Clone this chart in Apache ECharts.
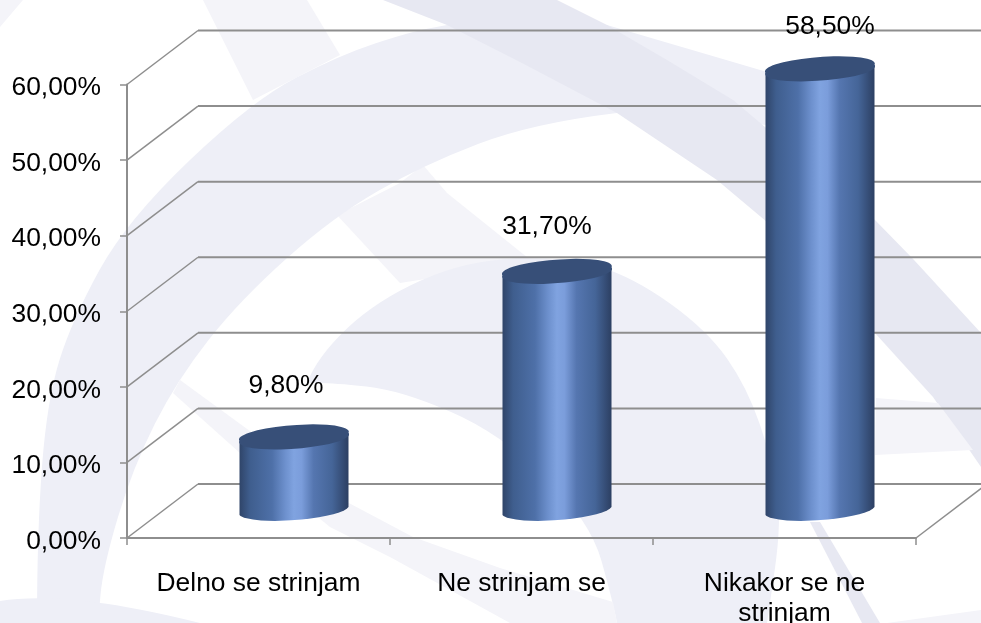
<!DOCTYPE html>
<html><head><meta charset="utf-8">
<style>html,body{margin:0;padding:0;background:#fff}#c{width:981px;height:623px}</style>
<script src="https://cdn.jsdelivr.net/npm/echarts@6/dist/echarts.min.js"></script>
</head><body><div id="c"></div>
<script>
const categories = ['Delno se strinjam', 'Ne strinjam se', 'Nikakor se ne\nstrinjam'];
const values = [9.8, 31.7, 58.5];
const dataLabels = ['9,80%', '31,70%', '58,50%'];
const wallTicks = [0, 10, 20, 30, 40, 50, 60];

// layout constants
const depthX = 71, depthY = 54;
const barW = 109, tilt = 4, ry = 10.5;
const labelShift = [[-8, -51], [-10, -45], [10, -42]];
const LIGHT = '#f4f4f9', MID = '#eeeff7', DARK = '#e7e8f2', GRID = '#8e8e8e';
const FONT = '"Liberation Sans", Arial, sans-serif';

function pathD(d, fill) {
  return { type: 'path', silent: true, shape: { pathData: d }, style: { fill: fill } };
}
// smooth curve through a list of points, continuing the current path
function sm(p) {
  let d = ` L${p[0][0]} ${p[0][1]}`;
  for (let i = 1; i < p.length - 1; i++) {
    const mx = (p[i][0] + p[i + 1][0]) / 2, my = (p[i][1] + p[i + 1][1]) / 2;
    d += ` Q${p[i][0]} ${p[i][1]} ${mx} ${my}`;
  }
  const e = p[p.length - 1];
  return d + ` L${e[0]} ${e[1]}`;
}
const mainOuter = [[37,623],[37,533],[47,400],[72,320],[127,220],[253,100],[340,55],[410,32],[447,25]];
const mainInner = [[617,113],[533,123],[423,165],[333,217],[240,300],[177,380],[133,467],[103,567],[98,623]];
const lowOuter = [[307,383],[317,357],[377,300],[467,260],[567,257],[633,277],[707,330],[747,387],[772,460],[782,520],[767,623]];
const lowInner = [[617,623],[613,602],[590,520],[500,433],[400,390],[333,383],[307,383]];
const backdropShapes = [
  ['M0 0 L23 0 L0 27 Z', LIGHT],
  ['M203 0 L307 0 L340 55 L253 100 Z', LIGHT],
  ['M337 215 L400 183 L423 165 L447 193 L533 262 L400 283 Z', LIGHT],
  ['M37 623' + sm(mainOuter) + ' L607 25 L767 72 L767 125' + sm(mainInner) + ' Z', MID],
  ['M307 383' + sm(lowOuter) + sm(lowInner) + ' Z', MID],
  ['M180 380 L347 502 L413 537 L500 568 L613 602 L617 623 L510 623 L390 557 L330 527 L240 453 L173 393 Z', LIGHT],
  ['M557 0 L607 25 L667 60 L733 100 L875 220 L914 260 L981 333 L981 467 L933 397 L875 333 L767 222 L717 180 L617 113 L520 62 L447 25 L383 0 Z', DARK],
  ['M810 522 L820 522 L880 623 L862 623 Z', DARK],
  ['M876 398 L938 403 L973 450 L875 455 Z', LIGHT],
  ['M887 623 L981 610 L981 623 Z', LIGHT],
  ['M0 601 C40 595 100 598 200 623 L0 623 Z', MID]
];

const chart = echarts.init(document.getElementById('c'), null, { renderer: 'canvas' });

function renderBackdrop() {
  return { type: 'group', children: backdropShapes.map(s => pathD(s[0], s[1])) };
}
function renderWall(params, api) {
  const y = api.coord([0, api.value(0)])[1];
  const x0 = params.coordSys.x;
  return {
    type: 'group', silent: true,
    children: [
      { type: 'line', silent: true, shape: { x1: x0, y1: y, x2: x0 + depthX, y2: y - depthY },
        style: { stroke: GRID, lineWidth: 1.5 } },
      { type: 'line', silent: true, shape: { x1: x0 + depthX, y1: y - depthY, x2: 981, y2: y - depthY },
        style: { stroke: GRID, lineWidth: 2 } }
    ]
  };
}
function renderFloorEdge(params, api) {
  const cs = params.coordSys;
  const right = cs.x + cs.width, y = api.coord([0, api.value(0)])[1];
  return {
    type: 'line', silent: true,
    shape: { x1: right, y1: y, x2: right + depthX, y2: y - depthY },
    style: { stroke: GRID, lineWidth: 1.5 }
  };
}
function renderCylinder(params, api) {
  const i = api.value(0), v = api.value(1);
  const top = api.coord([i, v]), base = api.coord([i, 0]);
  const cx = top[0] + depthX / 2, ty = top[1] - depthY / 2, by = base[1] - depthY / 2;
  const a = barW / 2;
  const xl = cx - a, xr = cx + a;
  const R = a + 0.6, deg = -Math.atan2(2 * tilt, 2 * a) * 180 / Math.PI;
  const body =
    `M${xl} ${ty + tilt} L${xl} ${by + tilt} A${R} ${ry} ${deg} 0 0 ${xr} ${by - tilt} L${xr} ${ty - tilt} Z`;
  const side = new echarts.graphic.LinearGradient(0, 0, 1, 0, [
    { offset: 0, color: '#2f4468' },
    { offset: 0.1, color: '#3f5e8e' },
    { offset: 0.3, color: '#4e70a8' },
    { offset: 0.42, color: '#6d90cd' },
    { offset: 0.5, color: '#80a3e0' },
    { offset: 0.57, color: '#7b9ddb' },
    { offset: 0.68, color: '#5576b0' },
    { offset: 0.85, color: '#456598' },
    { offset: 1, color: '#2c3f62' }
  ]);
  return {
    type: 'group',
    children: [
      { type: 'path', silent: true, shape: { pathData: body }, style: { fill: side } },
      { type: 'path', silent: true,
        shape: { pathData: `M${xl} ${ty + tilt} A${R} ${ry} ${deg} 1 1 ${xr} ${ty - tilt} A${R} ${ry} ${deg} 1 1 ${xl} ${ty + tilt} Z` },
        style: { fill: '#374f78' } },
      { type: 'text', silent: true,
        x: cx + labelShift[i][0], y: ty + labelShift[i][1],
        style: { text: dataLabels[i], fill: '#000', font: '26.4px ' + FONT, align: 'center', verticalAlign: 'middle' } }
    ]
  };
}

chart.setOption({
  animation: false,
  backgroundColor: '#fff',
  grid: { left: 127, right: 65, top: 84.5, bottom: 85, containLabel: false, outerBoundsMode: 'none' },
  xAxis: {
    type: 'category', data: categories,
    axisLine: { lineStyle: { color: GRID, width: 2 } },
    axisTick: { show: true, alignWithLabel: false, interval: 0, length: 7, lineStyle: { color: GRID, width: 1.5 } },
    axisLabel: { color: '#000', fontSize: 26.4, fontFamily: FONT, margin: 31, lineHeight: 30, interval: 0 }
  },
  yAxis: {
    type: 'value', min: 0, max: 60, interval: 10,
    splitLine: { show: false },
    axisLine: { show: true, lineStyle: { color: GRID, width: 2 } },
    axisTick: { show: true, length: 7, lineStyle: { color: GRID, width: 1.5 } },
    axisLabel: { color: '#000', fontSize: 26.4, fontFamily: FONT, margin: 26, verticalAlign: 'top', lineHeight: 7,
      formatter: v => v.toFixed(2).replace('.', ',') + '%' }
  },
  series: [
    { type: 'custom', name: 'backdrop', coordinateSystem: 'none', z: -5,
      data: [[0]], renderItem: renderBackdrop, silent: true },
    { type: 'custom', name: 'wall', coordinateSystem: 'cartesian2d', clip: false, z: 1,
      data: wallTicks.map(t => [t]), encode: { y: 0 }, renderItem: renderWall, silent: true },
    { type: 'custom', name: 'floor', coordinateSystem: 'cartesian2d', clip: false, z: 1,
      data: [[0]], encode: { y: 0 }, renderItem: renderFloorEdge, silent: true },
    { type: 'custom', name: 'cylinders', coordinateSystem: 'cartesian2d', clip: false, z: 3,
      data: values.map((v, i) => [i, v]), encode: { x: 0, y: 1 }, renderItem: renderCylinder, silent: true }
  ]
});
</script></body></html>
